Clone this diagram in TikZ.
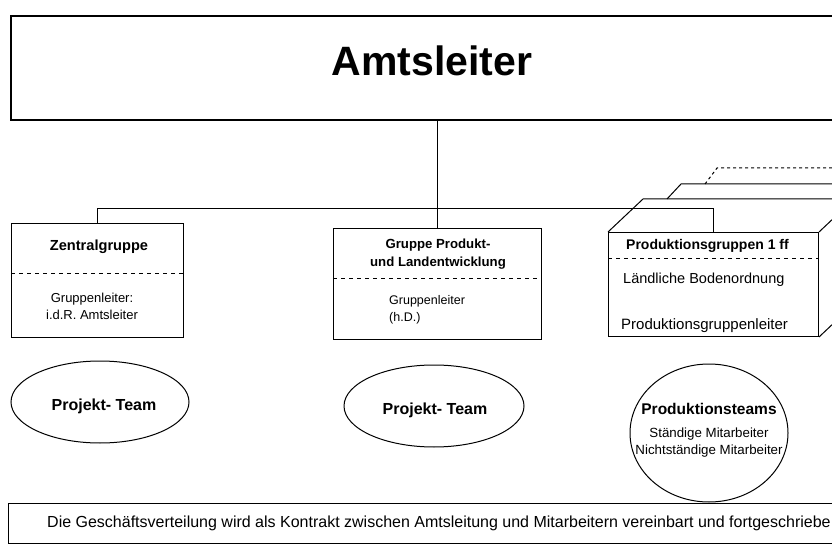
\documentclass[tikz,border=0pt]{standalone}
\usepackage{fontspec}
\setmainfont{Liberation Sans}
\usetikzlibrary{calc,shapes.geometric,positioning}

\begin{document}
\begin{tikzpicture}[x=1pt, y=-1pt, line/.style={draw=black, line width=0.9pt}, border/.style={draw=black, line width=1pt}]
% Define styles for boxes, teams and texts
\tikzstyle{block} = [draw, fill=white, rectangle, inner sep=0pt, border]
\tikzstyle{team} = [draw, ellipse, inner sep=0pt, border]
\tikzstyle{head} = [inner sep=0pt, align=center, font=\bfseries\fontsize{13.2}{18}\selectfont]
\tikzstyle{txt} = [inner sep=0pt, font=\fontsize{13}{17}\selectfont]
\tikzstyle{teamname} = [inner sep=0pt, font=\bfseries\fontsize{16}{18}\selectfont]
\tikzstyle{sep} = [border, dash pattern=on 4pt off 4pt]

\useasboundingbox (0,0) rectangle (832,545);
\clip (0,0) rectangle (832,545);

% Amtsleiter on top
\node [block, line width=1.6pt, anchor=north west, minimum width=846pt, minimum height=104pt] (amt) at (10,15) {};
\node [inner sep=0pt, font=\bfseries\fontsize{41}{48}\selectfont] (amtname) at (432,61) {Amtsleiter};

% Groups
\node [block, anchor=north west, minimum width=172pt, minimum height=114pt] (zentral) at (11,223) {};
\node [head, font=\bfseries\fontsize{14.6}{18}\selectfont] (zentralkopf) at (99,247) {Zentralgruppe};
\node [txt, align=center] (zentralleiter) at (92,306) {Gruppenleiter:\\i.d.R. Amtsleiter};

\node [block, anchor=north west, minimum width=208pt, minimum height=111pt] (produkt) at (333,228) {};
\node [head] (produktkopf) at (438,254) {Gruppe Produkt-\\und Landentwicklung};
\node [txt, align=left, anchor=west, font=\fontsize{12.5}{16.5}\selectfont] (produktleiter) at (389,310) {Gruppenleiter\\(h.D.)};

% Production groups, drawn as stacked boxes
\draw [border, dashed] ($(608,232)+(97,-48)$) -- ++(12,-16) -- ++(200,0);
\draw [border] ($(608,232)+(59,-33)$) -- ++(14,-15) -- ++(200,0);
\node [block, anchor=north west, minimum width=210pt, minimum height=104pt] (prodgr) at (608,232) {};
\draw [border] (prodgr.north west) -- ++(35,-33) -- ++(200,0);
\draw [border] (prodgr.north east) -- ++(35,-33);
\draw [border] (prodgr.south east) -- ++(35,-33);
\node [head, anchor=west, font=\bfseries\fontsize{14}{18}\selectfont] (prodgrkopf) at (626,246) {Produktionsgruppen 1 ff};
\node [txt, anchor=west, font=\fontsize{14.5}{18}\selectfont] (prodgrart) at (623,280) {Ländliche Bodenordnung};
\node [txt, anchor=west, font=\fontsize{15}{18}\selectfont] (prodgrleiter) at (621,326) {Produktionsgruppenleiter};

% Separators
\draw [sep] (zentral.west |- 0,273) -- (zentral.east |- 0,273);
\draw [sep] (produkt.west |- 0,278) -- (produkt.east |- 0,278);
\draw [sep] (prodgr.west |- 0,259) -- (prodgr.east |- 0,259);

% Tree lines
\draw [line] (amt.south -| produkt.north) -- (produkt.north);
\draw [line] (zentral.north) |- (prodgr.north |- 0,208) -- (prodgr.north);

% Teams
\node [team, minimum width=178pt, minimum height=82pt] (team1) at (100,402) {};
\node [teamname] (team1name) at (104,406) {Projekt- Team};
\node [team, minimum width=180pt, minimum height=82pt] (team2) at (434,406) {};
\node [teamname] (team2name) at (435,410) {Projekt- Team};
\node [team, minimum width=158pt, minimum height=138pt] (pteams) at (709,433) {};
\node [teamname, font=\bfseries\fontsize{15.5}{18}\selectfont] (pteamsname) at (709,409) {Produktionsteams};
\node [txt, align=center, font=\fontsize{13.3}{17}\selectfont] (pteamsmit) at (709,443) {Ständige Mitarbeiter\\Nichtständige Mitarbeiter};

% Agreement at the bottom
\node [block, anchor=north west, minimum width=846pt, minimum height=40pt] (vertrag) at (8,503) {};
\node [txt, anchor=west, font=\fontsize{16}{18}\selectfont] (vertragtext) at (47,523) {Die Geschäftsverteilung wird als Kontrakt zwischen Amtsleitung und Mitarbeitern vereinbart und fortgeschriebe};
\end{tikzpicture}
\end{document}
